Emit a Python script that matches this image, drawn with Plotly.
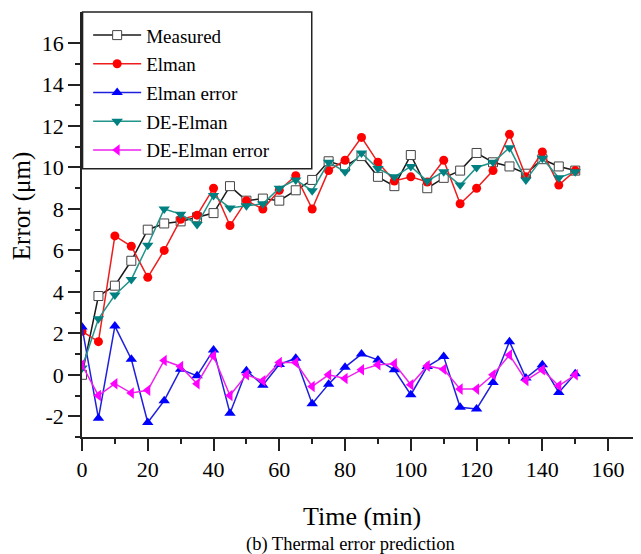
import plotly.graph_objects as go

time_min = [0, 5, 10, 15, 20, 25, 30, 35, 40, 45, 50, 55, 60, 65, 70, 75,
            80, 85, 90, 95, 100, 105, 110, 115, 120, 125, 130, 135, 140, 145, 150]

measured = [0.0, 3.8, 4.3, 5.5, 7.0, 7.3, 7.4, 7.6, 7.8, 9.1, 8.4, 8.5, 8.4, 8.9, 9.4, 10.3,
            10.05, 10.55, 9.55, 9.1, 10.6, 9.0, 9.5, 9.85, 10.7, 10.25, 10.05, 9.7, 10.4, 10.05, 9.85]

elman = [2.1, 1.6, 6.7, 6.2, 4.7, 6.0, 7.5, 7.7, 9.0, 7.2, 8.4, 8.0, 8.9, 9.6, 8.0, 9.85,
         10.35, 11.45, 10.25, 9.35, 9.55, 9.3, 10.35, 8.25, 9.0, 9.85, 11.6, 9.55, 10.75, 9.15, 9.85]

elman_error = [2.3, -2.1, 2.35, 0.75, -2.3, -1.25, 0.27, -0.05, 1.2, -1.85, 0.2, -0.5, 0.5, 0.8, -1.4, -0.45,
               0.37, 1.0, 0.72, 0.24, -0.96, 0.4, 0.88, -1.57, -1.65, -0.37, 1.6, -0.16, 0.48, -0.85, 0.05]

de_elman = [0.33, 2.7, 3.85, 4.6, 6.25, 8.0, 7.75, 7.25, 8.65, 8.05, 8.15, 8.25, 9.0, 9.4, 8.88, 10.25,
            9.8, 10.7, 9.95, 9.55, 10.05, 9.35, 9.8, 9.15, 10.0, 10.25, 10.95, 9.4, 10.45, 9.5, 9.8]

de_elman_error = [0.48, -1.0, -0.43, -0.88, -0.75, 0.69, 0.4, -0.43, 0.91, -1.0, 0.0, -0.29, 0.59, 0.59, -0.56, 0.0,
                  -0.18, 0.24, 0.48, 0.53, -0.48, 0.43, 0.27, -0.69, -0.69, 0.0, 0.96, -0.27, 0.24, -0.53, 0.0]

x_major = [0, 20, 40, 60, 80, 100, 120, 140, 160]
x_minor = [10, 30, 50, 70, 90, 110, 130, 150, 170]
y_major = [-2, 0, 2, 4, 6, 8, 10, 12, 14, 16]
y_minor = [-3, -1, 1, 3, 5, 7, 9, 11, 13, 15]

FONT = "Liberation Serif, Times New Roman, serif"

series = [
    ("Measured", measured, "#1a1a1a", dict(symbol="square", size=9, color="white",
                                            line=dict(color="#444444", width=1))),
    ("Elman", elman, "#ee1c1c", dict(symbol="circle", size=9, color="#ff0000",
                                      line=dict(width=0))),
    ("Elman error", elman_error, "#1f1fdd", dict(symbol="triangle-up", size=10, color="#0000ff",
                                                  line=dict(width=0))),
    ("DE-Elman", de_elman, "#22948a", dict(symbol="triangle-down", size=10, color="#008080",
                                            line=dict(width=0))),
    ("DE-Elman error", de_elman_error, "#ee22ee", dict(symbol="triangle-left", size=10, color="#ff00ff",
                                                        line=dict(width=0))),
]

fig = go.Figure()
for i, (name, vals, lc, mk) in enumerate(series):
    fig.add_trace(go.Scatter(
        x=time_min, y=vals, mode="lines+markers", name=name,
        line=dict(color=lc, width=1.5), marker=mk, legendgroup=f"g{i}",
    ))

# The page body has an 8px margin, so the figure is 8px smaller and the
# margins are reduced to keep the plot area where the reference has it.
fig.update_layout(
    width=633, height=546,
    margin=dict(l=74, r=0, t=4, b=117),
    paper_bgcolor="white", plot_bgcolor="white",
    font=dict(family=FONT, color="black"),
    showlegend=True,
    legend=dict(x=0.011, y=0.99, xanchor="left", yanchor="top",
                bgcolor="rgba(0,0,0,0)", borderwidth=0,
                font=dict(family=FONT, size=19, color="black"),
                itemwidth=48, tracegroupgap=1),
    shapes=[dict(type="rect", xref="paper", yref="paper",
                 x0=0.001, x1=0.411, y0=0.631, y1=1.0,
                 line=dict(color="#222222", width=1.5), fillcolor="white", layer="above")],
    annotations=[
        dict(text="Time (min)", xref="paper", yref="paper", x=0.5, y=-0.186,
             xanchor="center", yanchor="middle", showarrow=False,
             font=dict(family=FONT, size=26, color="black")),
        dict(text="(b) Thermal error prediction", xref="paper", yref="paper", x=0.48, y=-0.252,
             xanchor="center", yanchor="middle", showarrow=False,
             font=dict(family=FONT, size=18.5, color="black")),
        dict(text="Error (μm)", xref="paper", yref="paper", x=-0.107, y=0.5435,
             xanchor="center", yanchor="middle", showarrow=False, textangle=-90,
             font=dict(family=FONT, size=25, color="black")),
    ],
)

fig.update_xaxes(
    range=[0, 170], showgrid=False, zeroline=False,
    showline=True, linecolor="#222222", linewidth=1.5,
    ticks="outside", ticklen=12, tickwidth=1.5, tickcolor="#222222",
    tickvals=x_major, ticktext=[str(v) for v in x_major],
    tickfont=dict(family=FONT, size=22, color="black"),
    minor=dict(tickvals=x_minor, ticks="outside", ticklen=5, tickwidth=1.5, tickcolor="#222222"),
)
fig.update_yaxes(
    range=[-3, 17.5], showgrid=False, zeroline=False,
    showline=True, linecolor="#222222", linewidth=1.5,
    ticks="outside", ticklen=12, tickwidth=1.5, tickcolor="#222222",
    tickvals=y_major, ticktext=[str(v) for v in y_major],
    tickfont=dict(family=FONT, size=22, color="black"),
    minor=dict(tickvals=y_minor, ticks="outside", ticklen=5, tickwidth=1.5, tickcolor="#222222"),
)

fig.write_html("out.html")
